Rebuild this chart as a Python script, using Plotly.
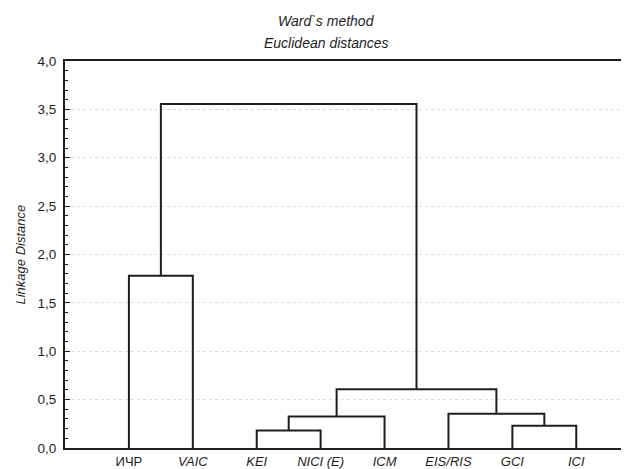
import plotly.graph_objects as go

# Leaves (left to right order on the dendrogram)
leaves = ["ИЧР", "VAIC", "KEI", "NICI (E)", "ICM", "EIS/RIS", "GCI", "ICI"]

# Merges: (left member, right member, linkage distance); members are leaf names or merge ids "m0", "m1", ...
merge_left = ["KEI", "GCI", "m0", "EIS/RIS", "m2", "ИЧР", "m5"]
merge_right = ["NICI (E)", "ICI", "ICM", "m1", "m3", "VAIC", "m4"]
merge_height = [0.18, 0.23, 0.325, 0.355, 0.607, 1.78, 3.555]

y_ticks = [0.0, 0.5, 1.0, 1.5, 2.0, 2.5, 3.0, 3.5, 4.0]

pos = {name: i + 1 for i, name in enumerate(leaves)}
hgt = {name: 0.0 for name in leaves}
xs, ys = [], []
for k, (a, b, h) in enumerate(zip(merge_left, merge_right, merge_height)):
    xa, xb = pos[a], pos[b]
    xs += [xa, xa, xb, xb, None]
    ys += [hgt[a], h, h, hgt[b], None]
    pos[f"m{k}"] = (xa + xb) / 2
    hgt[f"m{k}"] = h

FONT = "Liberation Sans, Arial, sans-serif"
INK = "#1e1e1e"

fig = go.Figure()
fig.add_trace(go.Scatter(x=xs, y=ys, mode="lines",
                         line=dict(color=INK, width=2), hoverinfo="skip",
                         showlegend=False))

tick_text = [name if name == "ИЧР" else f"<i>{name}</i>" for name in leaves]

PW = 572.0  # plot width in px
PH = 387.0  # plot height in px

fig.update_layout(
    width=629, height=469,
    margin=dict(l=57, r=0, t=53, b=29, autoexpand=False),
    paper_bgcolor="white", plot_bgcolor="white",
    separators=", ",
    font=dict(family=FONT, size=13, color=INK),
    showlegend=False,
    xaxis=dict(range=[0, 8.95], tickmode="array",
               tickvals=list(range(1, len(leaves) + 1)), ticktext=tick_text,
               showgrid=False, zeroline=False, ticks="",
               showline=True, linecolor=INK, linewidth=2, mirror=True,
               ticklabelstandoff=0, automargin=False,
               tickfont=dict(family=FONT, size=13, color=INK)),
    yaxis=dict(range=[0, 4.0], tickmode="array", tickvals=y_ticks,
               tickformat=".1f", automargin=False,
               showgrid=True, gridcolor="#dedede", griddash="dot", gridwidth=1,
               zeroline=False, showline=True, linecolor=INK, linewidth=2,
               ticks="inside", ticklen=5, tickcolor=INK, tickwidth=1,
               ticklabelstandoff=4,
               minor=dict(ticks="inside", dtick=0.1, ticklen=3,
                          tickcolor=INK, tickwidth=1, showgrid=False),
               tickfont=dict(family=FONT, size=13.5, color=INK)),
    annotations=[
        dict(text="<i>Ward`s method</i>", xref="paper", yref="paper",
             x=(326 - 65) / PW, y=(448 - 20.5) / PH, xanchor="center", yanchor="middle",
             showarrow=False, font=dict(family=FONT, size=14, color=INK)),
        dict(text="<i>Euclidean distances</i>", xref="paper", yref="paper",
             x=(326 - 65) / PW, y=(448 - 42.5) / PH, xanchor="center", yanchor="middle",
             showarrow=False, font=dict(family=FONT, size=14, color=INK)),
        dict(text="<i>Linkage Distance</i>", xref="paper", yref="paper",
             x=(20 - 65) / PW, y=0.5, xanchor="center", yanchor="middle",
             textangle=-90, showarrow=False,
             font=dict(family=FONT, size=13, color=INK)),
    ],
)

fig.write_html("out.html")
